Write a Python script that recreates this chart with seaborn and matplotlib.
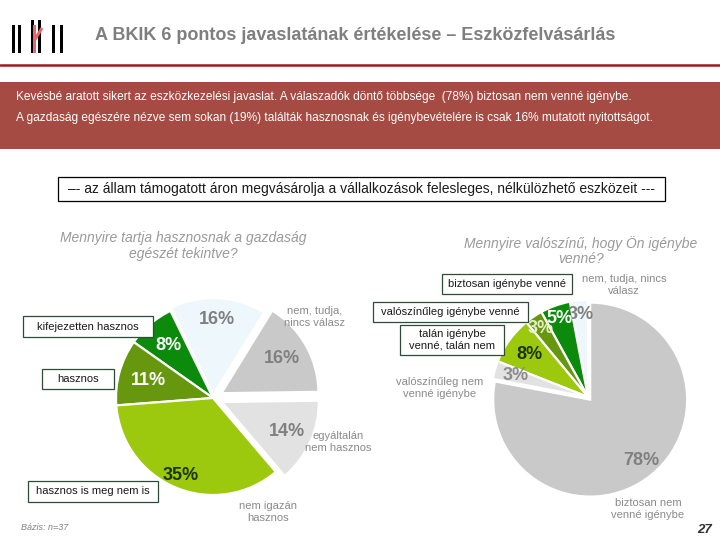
import matplotlib
matplotlib.use("Agg")
import matplotlib.pyplot as plt
from matplotlib.patches import Rectangle
import numpy as np
import seaborn as sns

sns.set_theme(style="white")
plt.rcParams["font.family"] = ["Liberation Sans", "DejaVu Sans"]

# ---------------- data ----------------
title = "A BKIK 6 pontos javaslatának értékelése – Eszközfelvásárlás"
summary_lines = [
    "Kevésbé aratott sikert az eszközkezelési javaslat. A válaszadók döntő többsége  (78%) biztosan nem venné igénybe.",
    "A gazdaság egészére nézve sem sokan (19%) találták hasznosnak és igénybevételére is csak 16% mutatott nyitottságot.",
]
quote = "–- az állam támogatott áron megvásárolja a vállalkozások felesleges, nélkülözhető eszközeit ---"

left_question = "Mennyire tartja hasznosnak a gazdaság\negészét tekintve?"
left_categories = ["kifejezetten hasznos", "hasznos", "hasznos is meg nem is",
                   "nem igazán\nhasznos", "egyáltalán\nnem hasznos", "nem, tudja,\nnincs válasz"]
left_values = [8, 11, 35, 14, 16, 16]

right_question = "Mennyire valószínű, hogy Ön igénybe\nvenné?"
right_categories = ["nem, tudja, nincs\nválasz", "biztosan igénybe venné", "valószínűleg igénybe venné",
                    "talán igénybe\nvenné, talán nem", "valószínűleg nem\nvenné igénybe",
                    "biztosan nem\nvenné igénybe"]
right_values = [3, 5, 3, 8, 3, 78]

base_note = "Bázis: n=37"
page_number = "27"

# ---------------- style ----------------
W, H = 720, 540
GREEN = "#0B8A0B"
OLIVE = "#66970F"
YGREEN = "#9CC90E"
LGRAY = "#E2E2E2"
GRAY = "#C9C9C9"
LBLUE = "#EEF7FC"
TXTGRAY = "#8A8A8A"

left_colors = [GREEN, OLIVE, YGREEN, LGRAY, GRAY, LBLUE]
right_colors = [LBLUE, GREEN, OLIVE, YGREEN, LGRAY, GRAY]

fig = plt.figure(figsize=(W / 100, H / 100), dpi=100)
ax = fig.add_axes([0, 0, 1, 1])
ax.set_xlim(0, W)
ax.set_ylim(0, H)
ax.axis("off")


def Y(y):
    return H - y


# ---------------- header ----------------
for bx, top in [(12, 25), (18, 25), (31, 20), (38, 20), (52, 25), (60, 25)]:
    ax.add_patch(Rectangle((bx, Y(53)), 2.6, 53 - top, color="black", lw=0))
ax.add_patch(Rectangle((32.5, Y(53)), 3, 28, color="#E9656B", lw=0, zorder=3))
ax.plot([34, 42], [Y(41), Y(28)], color="#E9656B", lw=2.2, solid_capstyle="butt", zorder=3)

ax.text(95, Y(35), title, fontsize=13, fontweight="bold", color="#7F7F7F", va="center", ha="left")
ax.plot([0, W], [Y(65), Y(65)], color="#9E1A1A", lw=1.8)

ax.add_patch(Rectangle((0, Y(149)), W, 67, color="#A64B43", lw=0))
for i, line in enumerate(summary_lines):
    ax.text(16, Y(97 + 21.5 * i), line, fontsize=8.55, color="white", va="center", ha="left")

ax.add_patch(Rectangle((58, Y(201)), 607, 24, facecolor="white", edgecolor="black", lw=0.9))
ax.text(361, Y(189), quote, fontsize=10, color="#1A1A1A", va="center", ha="center")

# ---------------- pies ----------------


def draw_pie(values, colors, center, radius, startangle, explode, pct_dist, pct_colors):
    wedges, _ = ax.pie(values, colors=colors, startangle=startangle, counterclock=True,
                       center=(center[0], Y(center[1])), radius=radius,
                       explode=[e * radius for e in explode],
                       frame=True, wedgeprops=dict(edgecolor="white", linewidth=1.6))
    for w, v, d, c in zip(wedges, values, pct_dist, pct_colors):
        mid = np.deg2rad((w.theta1 + w.theta2) / 2)
        cx, cy = w.center
        ax.text(cx + d * w.r * np.cos(mid), cy + d * w.r * np.sin(mid), f"{v}%",
                fontsize=13, fontweight="bold", color=c, ha="center", va="center", zorder=5)
    return wedges


draw_pie(left_values, left_colors, (213, 398), 97, 116,
         [0, 0, 0, 0.1, 0.1, 0.03],
         [0.71, 0.69, 0.87, 0.74, 0.72, 0.78],
         ["white", "white", "#1E3300", "#808080", "#808080", "#808080"])
draw_pie(right_values, right_colors, (588, 397), 97, 90,
         [0, 0, 0, 0, 0, 0.035],
         [0.85, 0.86, 0.86, 0.75, 0.78, 0.82],
         ["#808080", "white", "#E4EFC4", "#1E3300", "#8C8C8C", "#808080"])

ax.set_xlim(0, W)
ax.set_ylim(0, H)
ax.set_aspect("auto")
ax.axis("off")

# ---------------- category labels ----------------


def label(text, pos, box=None):
    x, y = pos
    if box is not None:
        bw, bh = box
        ax.add_patch(Rectangle((x - bw / 2, Y(y + bh / 2)), bw, bh, facecolor="white",
                               edgecolor="#2E4A38", lw=0.9, zorder=6))
        ax.text(x, Y(y), text, fontsize=8, color="#1A1A1A", ha="center", va="center",
                linespacing=1.15, zorder=7)
    else:
        ax.text(x, Y(y), text, fontsize=8, color=TXTGRAY, ha="center", va="center",
                linespacing=1.15, zorder=7)


left_pos = [(88, 326.5), (78, 379), (93, 491.5), (268, 512), (338, 442), (315, 317)]
left_box = [(130, 21), (72, 20), (130, 21), None, None, None]
for t, p, b in zip(left_categories, left_pos, left_box):
    label(t, p, b)

right_pos = [(624, 285), (507, 284), (450.5, 312), (452, 340), (440, 388), (648, 509)]
right_box = [None, (130, 20), (155, 20), (104, 30), None, None]
for t, p, b in zip(right_categories, right_pos, right_box):
    label(t, p, b)

ax.text(183, Y(246), left_question, fontsize=10, style="italic", color="#9A9A9A",
        ha="center", va="center", linespacing=1.15)
ax.text(581, Y(251), right_question, fontsize=10, style="italic", color="#9A9A9A",
        ha="center", va="center", linespacing=1.15)

ax.text(21, Y(528), base_note, fontsize=6.5, style="italic", color="#808080", ha="left", va="center")
ax.text(712, Y(530), page_number, fontsize=9.5, fontweight="bold", style="italic",
        color="#333333", ha="right", va="center")

fig.savefig("out.png", dpi=100)
